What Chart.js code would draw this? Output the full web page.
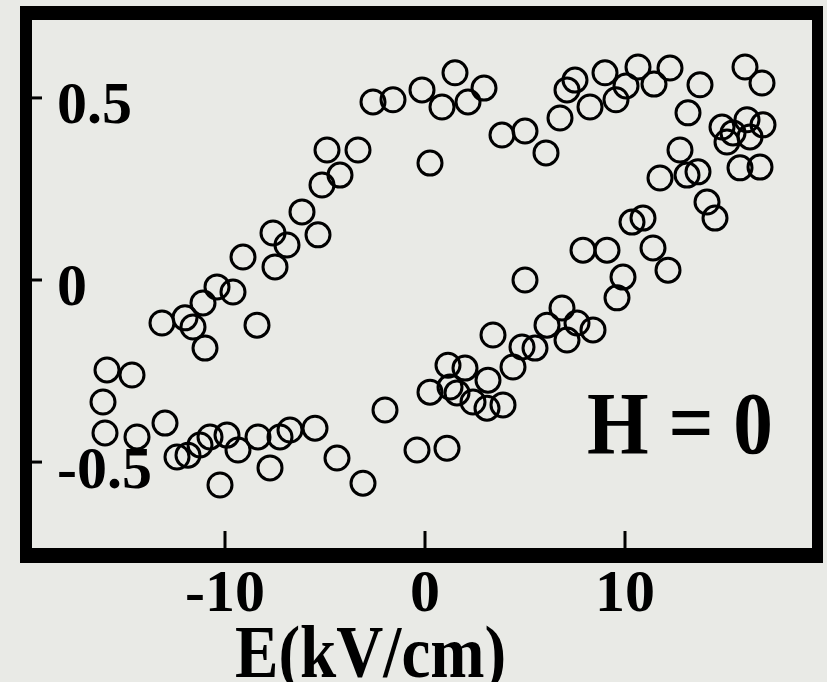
<!DOCTYPE html>
<html>
<head>
<meta charset="utf-8">
<script src="https://cdn.jsdelivr.net/npm/chart.js@4/dist/chart.umd.min.js"></script>
<style>
  html, body { margin: 0; padding: 0; background: #e9eae6; }
  #wrap { position: relative; width: 827px; height: 682px; }
</style>
</head>
<body>
<div id="wrap"><canvas id="loop"></canvas></div>
<script>
// Axis ticks
const xTicks = [-10, 0, 10];
const yTicks = [-0.5, 0, 0.5];

// Branch coming down from positive field (upper, left side rising)
const upperE = [-13.15, -12.0, -11.6, -11.1, -11.0, -10.4, -9.6, -8.4, -9.1, -7.6,
  -7.5, -6.9, -6.15, -5.35, -5.15, -4.25, -4.9, -3.35, -2.6, -1.6,
  -0.15, 0.85, 1.5, 2.15, 2.95, 0.25, 3.85, 5.0, 6.05, 6.75,
  7.1, 7.5, 8.25, 9.0, 9.55, 10.05, 10.65, 11.45, 12.25];
const upperP = [-0.118, -0.104, -0.129, -0.063, -0.187, -0.019, -0.033, -0.124, 0.063, 0.129,
  0.036, 0.096, 0.187, 0.124, 0.261, 0.288, 0.357, 0.357, 0.489, 0.495,
  0.522, 0.475, 0.569, 0.489, 0.527, 0.321, 0.398, 0.409, 0.349, 0.445,
  0.522, 0.549, 0.475, 0.569, 0.495, 0.533, 0.585, 0.538, 0.582];

// Branch going up from negative field (lower, right side rising)
const lowerE = [-15.9, -14.65, -16.1, -16.0, -14.4, -13.0, -12.4, -11.85, -11.25, -10.75,
  -10.25, -9.9, -9.35, -8.35, -7.75, -7.25, -6.75, -5.5, -4.4, -3.1,
  -2.0, -0.4, 1.1, 0.25, 1.15, 1.25, 1.6, 2.0, 2.4, 3.15,
  3.1, 3.9, 3.4, 4.4, 4.85, 5.5, 6.1, 6.85, 7.6, 7.1,
  8.4, 9.6, 9.9, 5.0, 7.9, 9.1, 11.4, 12.15, 10.35, 10.9,
  11.75, 12.75, 13.1, 13.65, 14.1, 14.5, 14.85, 15.1, 16.1, 16.9,
  15.75, 16.75, 16.0, 16.85, 13.15, 13.75, 15.4, 16.25];
const lowerP = [-0.247, -0.261, -0.335, -0.420, -0.431, -0.393, -0.486, -0.481, -0.453, -0.431,
  -0.563, -0.426, -0.467, -0.431, -0.516, -0.431, -0.412, -0.407, -0.489, -0.558,
  -0.357, -0.467, -0.462, -0.308, -0.234, -0.294, -0.310, -0.242, -0.335, -0.275,
  -0.352, -0.343, -0.151, -0.239, -0.184, -0.187, -0.124, -0.077, -0.118, -0.165,
  -0.137, -0.049, 0.008, 0.000, 0.082, 0.082, 0.088, 0.027, 0.159, 0.170,
  0.280, 0.357, 0.288, 0.297, 0.214, 0.170, 0.420, 0.379, 0.440, 0.426,
  0.308, 0.310, 0.585, 0.541, 0.459, 0.536, 0.404, 0.393];

const toPoints = (xs, ys) => xs.map((x, i) => ({ x, y: ys[i] }));

const serif = '"Liberation Serif", "DejaVu Serif", serif';

const marker = {
  showLine: false,
  pointStyle: 'circle',
  pointRadius: 12,
  pointBorderWidth: 3,
  pointBorderColor: '#000',
  pointBackgroundColor: 'rgba(0,0,0,0)'
};

// frame, inward ticks and the text labels inside / under the box
const decor = {
  id: 'decor',
  afterDraw(chart) {
    const { ctx, chartArea: a, scales } = chart;
    ctx.save();
    ctx.fillStyle = '#000';

    ctx.lineWidth = 3;
    ctx.strokeStyle = '#000';
    xTicks.forEach(v => {
      const px = scales.x.getPixelForValue(v);
      ctx.beginPath();
      ctx.moveTo(px, a.bottom);
      ctx.lineTo(px, a.bottom - 17);
      ctx.stroke();
    });
    yTicks.forEach(v => {
      const py = scales.y.getPixelForValue(v);
      ctx.beginPath();
      ctx.moveTo(a.left, py);
      ctx.lineTo(a.left + 10, py);
      ctx.stroke();
    });

    ctx.fillRect(a.left - 12, a.top - 14, a.right - a.left + 23, 14);
    ctx.fillRect(a.left - 12, a.bottom, a.right - a.left + 23, 15);
    ctx.fillRect(a.left - 12, a.top - 14, 12, a.bottom - a.top + 29);
    ctx.fillRect(a.right, a.top - 14, 11, a.bottom - a.top + 29);

    ctx.textBaseline = 'alphabetic';
    ctx.textAlign = 'left';

    ctx.save();
    ctx.translate(587, 453);
    ctx.scale(0.9, 1);
    ctx.font = 'bold 88px ' + serif;
    ctx.fillText('H = 0', 0, 0);
    ctx.restore();

    ctx.save();
    ctx.translate(235, 677);
    ctx.scale(0.88, 1);
    ctx.font = 'bold 74px ' + serif;
    ctx.fillText('E(kV/cm)', 0, 0);
    ctx.restore();

    ctx.restore();
  }
};

new Chart(document.getElementById('loop'), {
  type: 'scatter',
  data: {
    datasets: [
      { label: 'upper', data: toPoints(upperE, upperP), ...marker },
      { label: 'lower', data: toPoints(lowerE, lowerP), ...marker }
    ]
  },
  options: {
    responsive: true,
    maintainAspectRatio: false,
    animation: false,
    layout: { padding: { left: 32, top: 20, right: 15, bottom: 0 } },
    plugins: {
      legend: { display: false },
      tooltip: { enabled: false }
    },
    scales: {
      x: {
        type: 'linear',
        position: 'bottom',
        min: -19.65,
        max: 19.35,
        afterBuildTicks: s => { s.ticks = xTicks.map(value => ({ value })); },
        afterFit: s => { s.height = 134; s.paddingLeft = 0; s.paddingRight = 0; },
        grid: { display: false, drawTicks: false },
        border: { display: false },
        ticks: {
          color: '#000',
          padding: 11,
          font: { family: serif, size: 60, weight: 'bold' },
          callback: v => String(v)
        }
      },
      y: {
        type: 'linear',
        min: -0.736,
        max: 0.714,
        afterBuildTicks: s => { s.ticks = yTicks.map(value => ({ value })); },
        afterFit: s => { s.width = 0; s.paddingTop = 0; s.paddingBottom = 0; },
        grid: { display: false, drawTicks: false },
        border: { display: false },
        ticks: {
          mirror: true,
          color: '#000',
          padding: 25,
          labelOffset: 10,
          font: { family: serif, size: 60, weight: 'bold' },
          callback: v => String(v)
        }
      }
    }
  },
  plugins: [decor]
});
</script>
</body>
</html>
